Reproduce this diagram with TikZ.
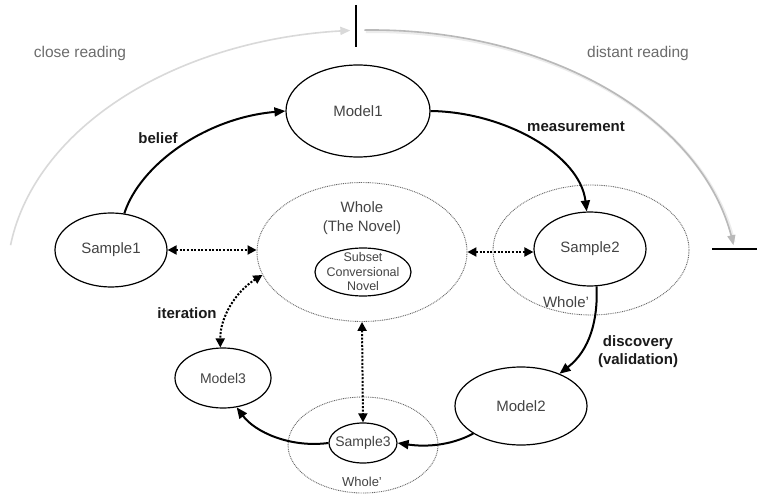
\documentclass[tikz,border=0pt]{standalone}
\usepackage{fontspec}
\setmainfont{Liberation Sans}
\usetikzlibrary{arrows.meta,shapes.geometric}
\definecolor{txt}{HTML}{444444}
\definecolor{lbl}{HTML}{1A1A1A}
\begin{document}
\begin{tikzpicture}[x=1pt,y=-1pt,
  oval/.style={ellipse,draw=black,line width=1.2pt,inner sep=0pt,text=txt,font=\fontsize{15}{18}\selectfont},
  dotoval/.style={ellipse,draw=black!60,line width=0.9pt,dash pattern=on 0.9pt off 0.9pt,inner sep=0pt},
  flow/.style={line width=2pt,-{Triangle[length=11pt,width=9pt]}},
  link/.style={line width=2pt,dash pattern=on 2pt off 1.6pt,{Triangle[length=9pt,width=9pt]}-{Triangle[length=9pt,width=9pt]}},
  lab/.style={font=\bfseries\fontsize{15}{18}\selectfont,text=lbl,align=center},
  zone/.style={text=gray!85!black,font=\fontsize{15.5}{18}\selectfont},
  arcline/.style={line width=1.6pt,-{Triangle[length=10pt,width=8pt]}}]
\useasboundingbox (0,0) rectangle (757,494);
\fill[white] (0,0) rectangle (757,494);

% reading arcs
\draw[arcline,draw=gray!30] plot[domain=172:93.4,samples=80,smooth,variable=\t] ({372+365*cos(\t)},{280-250*sin(\t)});
\draw[line width=3pt,draw=gray!15] plot[domain=91.2:9,samples=80,smooth,variable=\t] ({373.5+365*cos(\t)},{281.5-250*sin(\t)});
\draw[arcline,draw=gray!55] plot[domain=91.2:8,samples=80,smooth,variable=\t] ({372+365*cos(\t)},{280-250*sin(\t)});
\draw[line width=2.2pt] (356,5) -- (356,47);
\draw[line width=2.2pt] (712,249) -- (757,249);
\node[zone] (close) at (80,53) {close reading};
\node[zone] (distant) at (638,53) {distant reading};

% dotted regions
\node[dotoval,minimum width=210pt,minimum height=139pt] (W) at (362,252) {};
\node[dotoval,minimum width=196pt,minimum height=130pt] (W2) at (591,250) {};
\node[dotoval,minimum width=150pt,minimum height=96pt] (W3) at (363,445) {};
\node[text=txt,font=\fontsize{15}{19}\selectfont,align=center] (Wt) at (362,218) {Whole\\(The Novel)};
\node[text=txt,font=\fontsize{15}{18}\selectfont] (W2t) at (566,302) {Whole'};
\node[text=txt,font=\fontsize{13}{16}\selectfont] (W3t) at (362,482) {Whole'};

% nodes
\node[oval,minimum width=144pt,minimum height=92pt] (M1) at (358,111) {Model1};
\node[oval,minimum width=112pt,minimum height=74pt] (S1) at (111,250) {Sample1};
\node[oval,minimum width=112pt,minimum height=74pt] (S2) at (590,249) {Sample2};
\node[oval,minimum width=132pt,minimum height=78pt] (M2) at (521,406) {Model2};
\node[oval,minimum width=96pt,minimum height=60pt,font=\fontsize{14}{17}\selectfont] (M3) at (223,378) {Model3};
\node[oval,minimum width=68pt,minimum height=40pt,inner sep=-10pt,font=\fontsize{14}{17}\selectfont] (S3) at (363,443) {Sample3};
\node[oval,minimum width=96pt,minimum height=48pt,inner sep=-12pt,align=center,font=\fontsize{12.5}{14.5}\selectfont] (SUB) at (363,272) {Subset\\Conversional\\Novel};

% flow arrows
\draw[flow] (S1.70) .. controls (140,165) and (205,118) .. (M1.west);
\draw[flow] (M1.east) .. controls (505,112) and (580,155) .. (S2.95);
\draw[flow] (S2.-80) .. controls (598,320) and (590,350) .. (M2.40);
\draw[flow] (M2.210) .. controls (450,446) and (425,447) .. (S3.east);
\draw[flow] (S3.west) .. controls (290,448) and (255,432) .. (M3.-65);

% dotted links
\draw[link] (S1.east) -- (S1.east -| W.west);
\draw[link] (W.east) -- (W.east -| S2.west);
\draw[link] (W.193) .. controls (235,292) and (220,318) .. (M3.95);
\draw[link] (W.south) -- (S3.north);

% labels
\node[lab] (belief) at (158,138) {belief};
\node[lab] (meas) at (576,127) {measurement};
\node[lab] (iter) at (187,313) {iteration};
\node[lab] (disc) at (638,352) {discovery\\(validation)};
\end{tikzpicture}
\end{document}
